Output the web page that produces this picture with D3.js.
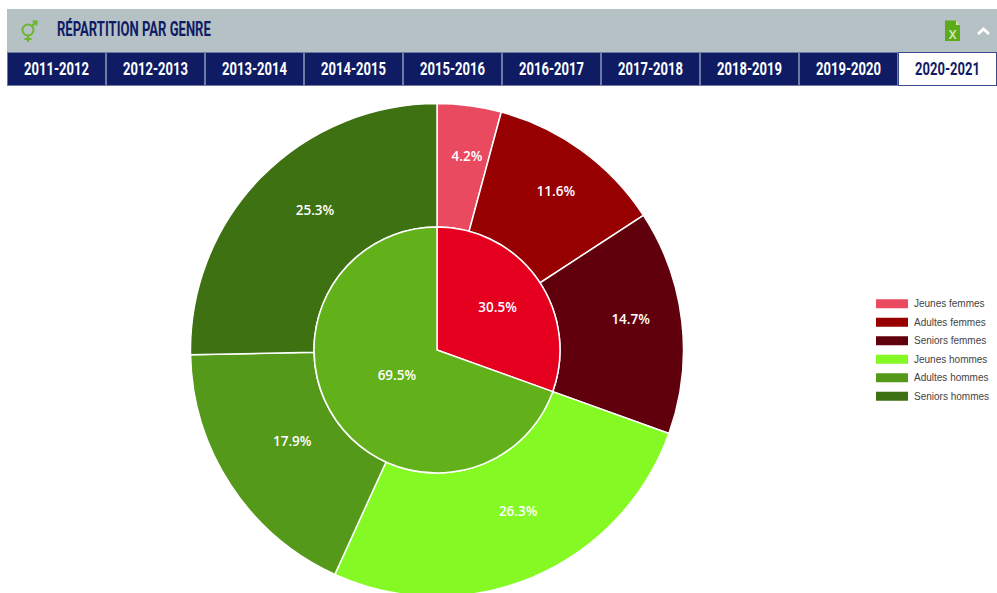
<!DOCTYPE html>
<html>
<head>
<meta charset="utf-8">
<script src="https://cdn.jsdelivr.net/npm/d3@7"></script>
<style>
  html, body { margin: 0; background: #fff; overflow: hidden; }
  svg { display: block; }
  .condensed { font-family: "Roboto", sans-serif; font-weight: 700; }
</style>
</head>
<body>
<svg></svg>
<script>
let title = 'RÉPARTITION PAR GENRE';
let years = ['2011-2012', '2012-2013', '2013-2014', '2014-2015', '2015-2016',
  '2016-2017', '2017-2018', '2018-2019', '2019-2020', '2020-2021'];
let activeYear = '2020-2021';

let genders = ['Femmes', 'Hommes'];
let genderValues = [30.5, 69.5];
let genderColors = ['#e60020', '#62b11b'];

let groups = ['Jeunes femmes', 'Adultes femmes', 'Seniors femmes', 'Jeunes hommes', 'Adultes hommes', 'Seniors hommes'];
let groupValues = [4.2, 11.6, 14.7, 26.3, 17.9, 25.3];
let groupColors = ['#ea4a5f', '#960000', '#61000d', '#85f924', '#55991a', '#3e7112'];

let width = 997;
let height = 593;
let cx = 437;
let cy = 350;
let outerRadius = 246.5;
let innerRadius = 123;

let navy = '#0f1c64';

let svg = d3.select('svg')
  .attr('width', width)
  .attr('height', height);

// squeeze a text to a given width, the header font is a condensed one
function fitWidth(sel, w) {
  sel.attr('transform', function() {
    let x = +this.getAttribute('x');
    let k = w / this.getComputedTextLength();
    return `translate(${x},0) scale(${k},1) translate(${-x},0)`;
  });
}

// header
svg.append('rect')
  .attr('x', 7).attr('y', 9)
  .attr('width', width - 7).attr('height', 44)
  .attr('fill', '#b5c1c5');

svg.append('text')
  .attr('class', 'condensed')
  .attr('x', 57).attr('y', 36.5)
  .attr('font-size', 20)
  .attr('fill', navy)
  .text(title)
  .call(fitWidth, 154);

// gender icon
let icon = svg.append('g')
  .attr('fill', 'none')
  .attr('stroke', '#6cb52d')
  .attr('stroke-width', 2);
icon.append('circle').attr('cx', 28).attr('cy', 30).attr('r', 5.5);
icon.append('path').attr('d', 'M28 36V42M24.5 39H31.5M32 26L36 22M32.5 21.5H36.5V25.5');

// excel icon
svg.append('path')
  .attr('d', 'M945 20.5H956L960 25V41H945Z')
  .attr('fill', '#5cab17');
svg.append('path')
  .attr('d', 'M956 20.5V25H960Z')
  .attr('fill', '#cfe3bd');
svg.append('text')
  .attr('x', 952.5).attr('y', 38.5)
  .attr('text-anchor', 'middle')
  .attr('font-family', 'Roboto, sans-serif')
  .attr('font-weight', 500)
  .attr('font-size', 13)
  .attr('fill', '#cfe3bd')
  .text('X');

// collapse arrow
svg.append('path')
  .attr('d', 'M978 34L983.5 29L989 34')
  .attr('fill', 'none')
  .attr('stroke', '#fff')
  .attr('stroke-width', 3);

// year tabs
let tabX = d3.scaleBand()
  .domain(years)
  .range([7, 997]);

let tabs = svg.selectAll('.tab')
  .data(years)
  .enter()
  .append('g')
  .attr('class', 'tab')
  .attr('transform', d => `translate(${tabX(d)},52)`);

tabs.append('rect')
  .attr('x', 0.5).attr('y', 0.5)
  .attr('width', tabX.bandwidth() - 1)
  .attr('height', 33)
  .attr('fill', d => d === activeYear ? '#fff' : navy)
  .attr('stroke', d => d === activeYear ? '#3b4a8c' : '#6f79a3')
  .attr('stroke-width', 1);

tabs.append('text')
  .attr('class', 'condensed')
  .attr('x', tabX.bandwidth() / 2)
  .attr('y', 23)
  .attr('text-anchor', 'middle')
  .attr('font-size', 18)
  .attr('fill', d => d === activeYear ? navy : '#fff')
  .text(d => d)
  .call(fitWidth, 65);

// pies
let pie = d3.pie().sort(null).value(d => d);
let chart = svg.append('g').attr('transform', `translate(${cx},${cy})`);

let outerArc = d3.arc().innerRadius(innerRadius).outerRadius(outerRadius);
let innerArc = d3.arc().innerRadius(0).outerRadius(innerRadius);

chart.selectAll('.outer')
  .data(pie(groupValues))
  .enter()
  .append('path')
  .attr('class', 'outer')
  .attr('d', outerArc)
  .attr('fill', (d, i) => groupColors[i])
  .attr('stroke', '#fff')
  .attr('stroke-width', 1.5);

chart.selectAll('.inner')
  .data(pie(genderValues))
  .enter()
  .append('path')
  .attr('class', 'inner')
  .attr('d', innerArc)
  .attr('fill', (d, i) => genderColors[i])
  .attr('stroke', '#fff')
  .attr('stroke-width', 1.5);

function labelPos(d, r, nudge) {
  let a = (d.startAngle + d.endAngle) / 2;
  return [Math.sin(a) * r + nudge[0], -Math.cos(a) * r + nudge[1]];
}

// labels don't sit exactly on the slice middle in the original, so small corrections
let outerNudge = [[4, 2], [3, 1], [-2, -8], [12, -3], [4, -6], [5, -15]];
let innerNudge = [[0, 0], [0, -3]];

let label = (sel, cls, data, radius, nudge) => sel.selectAll('.' + cls)
  .data(data)
  .enter()
  .append('text')
  .attr('class', cls)
  .attr('transform', (d, i) => `translate(${labelPos(d, radius(d), nudge[i])})`)
  .attr('dy', '0.35em')
  .attr('text-anchor', 'middle')
  .attr('font-family', '"Open Sans", sans-serif')
  .attr('font-weight', 600)
  .attr('font-size', 13.5)
  .attr('fill', '#fff')
  .text(d => d.value.toFixed(1) + '%');

// big slices sit closer in, the small ones further out
label(chart, 'outer-label', pie(groupValues), d => d.value > 17 ? 178 : 197, outerNudge);
label(chart, 'inner-label', pie(genderValues), d => d.value > 50 ? 49 : 74, innerNudge);

// legend
let legendY = d3.scaleBand()
  .domain(groups)
  .range([294.5, 405.5]);

let legend = svg.selectAll('.legend')
  .data(groups)
  .enter()
  .append('g')
  .attr('class', 'legend')
  .attr('transform', d => `translate(876,${legendY(d)})`);

legend.append('rect')
  .attr('x', 0)
  .attr('y', legendY.bandwidth() / 2 - 4.5)
  .attr('width', 32)
  .attr('height', 9)
  .attr('fill', (d, i) => groupColors[i]);

legend.append('text')
  .attr('x', 38)
  .attr('y', legendY.bandwidth() / 2)
  .attr('dy', '0.35em')
  .attr('font-family', '"Liberation Sans", Arial, sans-serif')
  .attr('font-size', 10)
  .attr('fill', '#444')
  .text(d => d);
</script>
</body>
</html>
